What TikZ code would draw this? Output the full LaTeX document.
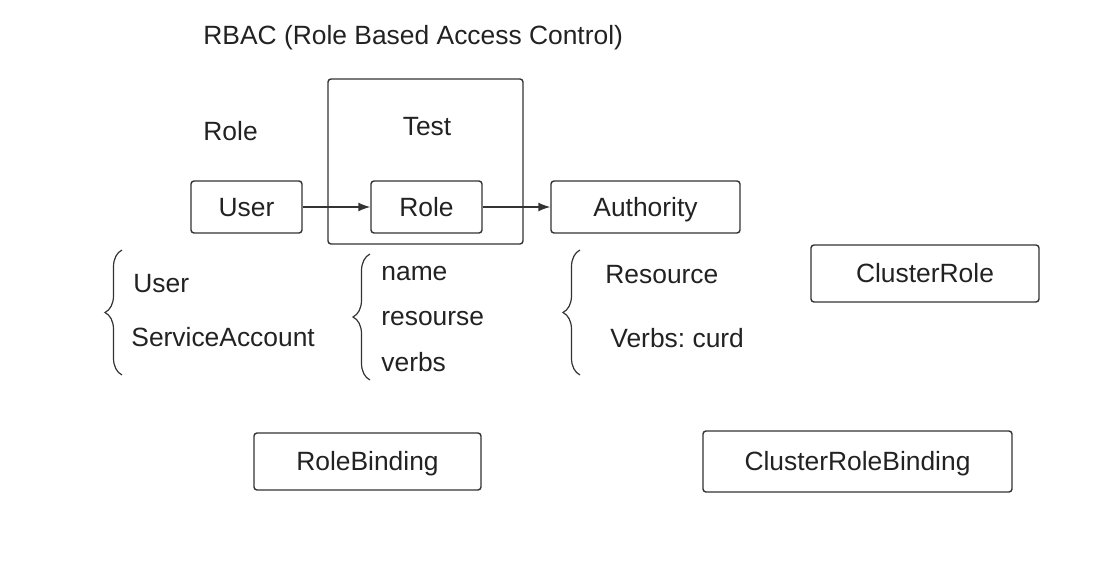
\documentclass[tikz,border=0pt]{standalone}
\usepackage{fontspec}
\setmainfont{Liberation Sans}
\usetikzlibrary{positioning,arrows.meta,decorations.pathreplacing}

\definecolor{linegray}{HTML}{333333}
\definecolor{textgray}{HTML}{222222}
\frenchspacing

\begin{document}
\begin{tikzpicture}[x=0.5pt,y=-0.5pt,font=\fontsize{13.2}{15}\selectfont,text=textgray]

\tikzstyle{box}=[draw=linegray,line width=0.7pt,rounded corners=1.5pt,inner sep=0pt,minimum height=26pt,text height=9.4pt,text depth=0pt]
\tikzstyle{item}=[anchor=base west,inner sep=0pt]
\tikzstyle{arrow}=[draw=linegray,line width=0.7pt,-{Latex[length=6pt,width=4.5pt]}]
\tikzstyle{curly}=[draw=linegray,line width=0.6pt,decorate,decoration={brace,amplitude=8.5pt}]

  \useasboundingbox (0,0) rectangle (1105,588);

  % title and label
  \node (title) [item] at (203,45) {RBAC (Role Based Access Control)};
  \node (role_label) [item] at (203,141) {Role};

  % top row
  \node (test) [box,minimum width=97.5pt,minimum height=82.5pt] at (425.5,161.5) {};
  \node (test_label) [inner sep=0pt] at (427,127) {Test};
  \node (user) [box,minimum width=55.5pt] at (246.5,207) {User};
  \node (role) [box,minimum width=55.5pt] at (426.5,207) {Role};
  \node (authority) [box,minimum width=94.5pt] at (645.5,207) {Authority};

  \draw[arrow] (user) -- (role);
  \draw[arrow] (role) -- (authority);

  % lists
  \draw[curly] (122,375) -- (122,250);
  \node (subj_user) [item] at (133,293) {User};
  \node (subj_sa) [item] at (131,347) {ServiceAccount};

  \draw[curly] (370,380) -- (370,254);
  \node (role_name) [item] at (381,281) {name};
  \node (role_res) [item] at (381,326) {resourse};
  \node (role_verbs) [item] at (381,372) {verbs};

  \draw[curly] (580,375) -- (580,250);
  \node (auth_res) [item] at (605,284) {Resource};
  \node (auth_verbs) [item] at (610,348) {Verbs: curd};

  % other objects
  \node (clusterrole) [box,minimum width=114pt,minimum height=28.5pt] at (925,273.5) {ClusterRole};
  \node (rolebinding) [box,minimum width=113.5pt,minimum height=28.5pt] at (367.5,461.5) {RoleBinding};
  \node (crb) [box,minimum width=154.5pt,minimum height=30.5pt] at (857.5,461.5) {ClusterRoleBinding};

\end{tikzpicture}
\end{document}
